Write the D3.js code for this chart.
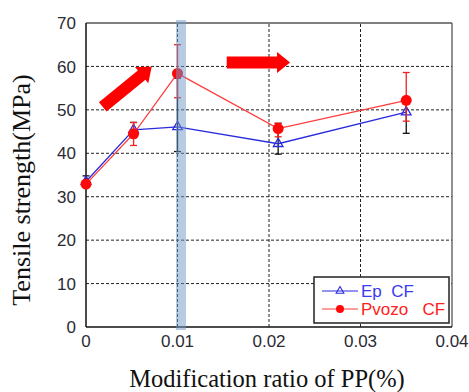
<!DOCTYPE html>
<html lang="en">
<head>
  <meta charset="UTF-8">
  <title>Tensile strength vs modification ratio</title>
  <script src="https://d3js.org/d3.v7.min.js"></script>
  <style>
    body { margin: 0; background: #fff; }
    svg { display: block; }
  </style>
</head>
<body>
  <div id="chart"></div>
  <script>
    // data
    const ratios = [0, 0.0052, 0.01, 0.021, 0.035];
    const epValues = [33.5, 45.4, 46.1, 42.2, 49.5];
    const epLow = [32.5, 43.6, 40.4, 39.8, 44.6];
    const epHigh = [34.8, 47.1, 57.3, 46.9, 52.0];
    const pvValues = [32.9, 44.5, 58.4, 45.7, 52.2];
    const pvLow = [32.9, 41.8, 52.8, 43.8, 47.4];
    const pvHigh = [32.9, 47.1, 65.0, 46.9, 58.6];
    const xTicks = [0, 0.01, 0.02, 0.03, 0.04];
    const yTicks = [0, 10, 20, 30, 40, 50, 60, 70];
    const seriesNames = ["Ep  CF", "Pvozo   CF"];
    // annotation arrows in data units: [x0, y0, x1, y1]
    const arrows = [
      [0.00183, 50.7, 0.00718, 59.9],
      [0.01538, 60.9, 0.0223, 60.9]
    ];
    const highlightAt = 0.01;

    const width = 469, height = 392;
    const margin = { top: 23, right: 17, bottom: 65, left: 86 };

    const svg = d3.select("#chart").append("svg").attr("width", width).attr("height", height);

    const x = d3.scaleLinear().domain([0, 0.04]).range([margin.left, width - margin.right]);
    const y = d3.scaleLinear().domain([0, 70]).range([height - margin.bottom, margin.top]);

    // gridlines
    svg.append("g").selectAll("line").data(xTicks.slice(1, -1)).enter().append("line")
      .attr("x1", d => x(d)).attr("x2", d => x(d))
      .attr("y1", y(0)).attr("y2", y(70))
      .attr("stroke", "#222").attr("stroke-width", 1).attr("stroke-dasharray", "3,2");
    svg.append("g").selectAll("line").data(yTicks.slice(1, -1)).enter().append("line")
      .attr("x1", x(0)).attr("x2", x(0.04))
      .attr("y1", d => y(d)).attr("y2", d => y(d))
      .attr("stroke", "#222").attr("stroke-width", 1).attr("stroke-dasharray", "3,2");

    // frame
    svg.append("line").attr("x1", x(0)).attr("x2", x(0.04)).attr("y1", y(70)).attr("y2", y(70))
      .attr("stroke", "#555").attr("stroke-width", 1.3);
    svg.append("line").attr("x1", x(0.04)).attr("x2", x(0.04)).attr("y1", y(0)).attr("y2", y(70))
      .attr("stroke", "#555").attr("stroke-width", 1.3);
    svg.append("line").attr("x1", x(0)).attr("x2", x(0)).attr("y1", y(0)).attr("y2", y(70))
      .attr("stroke", "#111").attr("stroke-width", 1.5);
    svg.append("line").attr("x1", x(0)).attr("x2", x(0.04)).attr("y1", y(0)).attr("y2", y(0))
      .attr("stroke", "#111").attr("stroke-width", 1.5);

    // tick labels
    svg.append("g").selectAll("text").data(yTicks).enter().append("text")
      .attr("x", x(0) - 10).attr("y", d => y(d)).attr("dy", "0.36em")
      .attr("text-anchor", "end").attr("font-family", "Liberation Sans, Arial, sans-serif")
      .attr("font-size", 17).attr("fill", "#2a2a33").text(d => d);
    svg.append("g").selectAll("text").data(xTicks).enter().append("text")
      .attr("x", d => x(d)).attr("y", y(0) + 20)
      .attr("text-anchor", "middle").attr("font-family", "Liberation Sans, Arial, sans-serif")
      .attr("font-size", 17).attr("fill", "#2a2a33").text(d => d);

    // axis titles
    svg.append("text").attr("transform", `translate(30,${(y(0) + y(70)) / 2 + 15}) rotate(-90)`)
      .attr("text-anchor", "middle").attr("font-family", "Liberation Serif, Times New Roman, serif")
      .attr("font-size", 26).attr("fill", "#111").text("Tensile strength(MPa)");
    svg.append("text").attr("x", 267).attr("y", 387)
      .attr("text-anchor", "middle").attr("font-family", "Liberation Serif, Times New Roman, serif")
      .attr("font-size", 24.5).attr("fill", "#111").text("Modification ratio of PP(%)");

    const epColor = "#2b2bdd", pvColor = "#ff3b3b";

    // error bars
    function errorBars(low, high, color) {
      const g = svg.append("g");
      ratios.forEach((r, i) => {
        if (high[i] - low[i] < 0.5) return;
        g.append("line").attr("x1", x(r)).attr("x2", x(r)).attr("y1", y(low[i])).attr("y2", y(high[i]))
          .attr("stroke", color).attr("stroke-width", 1.3);
        [low[i], high[i]].forEach(v => {
          g.append("line").attr("x1", x(r) - 3.5).attr("x2", x(r) + 3.5).attr("y1", y(v)).attr("y2", y(v))
            .attr("stroke", color).attr("stroke-width", 1.3);
        });
      });
    }
    errorBars(epLow, epHigh, "#111");

    const line = d3.line().x(d => x(d[0])).y(d => y(d[1]));
    svg.append("path").datum(ratios.map((r, i) => [r, epValues[i]]))
      .attr("d", line).attr("fill", "none").attr("stroke", epColor).attr("stroke-width", 1.3);
    const tri = d3.symbol().type(d3.symbolTriangle).size(40);
    svg.append("g").selectAll("path").data(ratios).enter().append("path")
      .attr("d", tri).attr("transform", (d, i) => `translate(${x(d)},${y(epValues[i])})`)
      .attr("fill", "none").attr("stroke", epColor).attr("stroke-width", 1.3);

    errorBars(pvLow, pvHigh, "#ee2222");
    svg.append("path").datum(ratios.map((r, i) => [r, pvValues[i]]))
      .attr("d", line).attr("fill", "none").attr("stroke", pvColor).attr("stroke-width", 1.2);
    svg.append("g").selectAll("circle").data(ratios).enter().append("circle")
      .attr("cx", d => x(d)).attr("cy", (d, i) => y(pvValues[i])).attr("r", 5.5)
      .attr("fill", "#ff0808");

    // highlight band
    svg.append("rect").attr("x", x(highlightAt) - 1.5).attr("width", 10)
      .attr("y", y(70) - 3).attr("height", y(0) - y(70) + 6)
      .attr("fill", "#7098c8").attr("opacity", 0.5);

    // arrows
    function arrowPath(a) {
      const x0 = x(a[0]), y0 = y(a[1]), x1 = x(a[2]), y1 = y(a[3]);
      const len = Math.hypot(x1 - x0, y1 - y0);
      const ux = (x1 - x0) / len, uy = (y1 - y0) / len;
      const nx = -uy, ny = ux;
      const sw = 6, hw = 10.5, hl = 13;
      const bx = x1 - ux * hl, by = y1 - uy * hl;
      const pts = [
        [x0 + nx * sw, y0 + ny * sw],
        [bx + nx * sw, by + ny * sw],
        [bx + nx * hw, by + ny * hw],
        [x1, y1],
        [bx - nx * hw, by - ny * hw],
        [bx - nx * sw, by - ny * sw],
        [x0 - nx * sw, y0 - ny * sw]
      ];
      return "M" + pts.map(p => p.join(",")).join("L") + "Z";
    }
    svg.append("g").selectAll("path").data(arrows).enter().append("path")
      .attr("d", arrowPath).attr("fill", "#ff0000");

    // legend
    const lg = svg.append("g").attr("transform", "translate(314,277)");
    lg.append("rect").attr("width", 135).attr("height", 46)
      .attr("fill", "#fff").attr("stroke", "#222").attr("stroke-width", 1.5);
    const legendColors = [epColor, pvColor];
    const legendText = ["#3a3aee", "#ff2020"];
    seriesNames.forEach((name, i) => {
      const ly = 14 + i * 18;
      lg.append("line").attr("x1", 8).attr("x2", 44).attr("y1", ly).attr("y2", ly)
        .attr("stroke", legendColors[i]).attr("stroke-width", 1.2);
      if (i === 0) {
        lg.append("path").attr("d", d3.symbol().type(d3.symbolTriangle).size(26))
          .attr("transform", `translate(26,${ly})`).attr("fill", "none")
          .attr("stroke", epColor).attr("stroke-width", 1.1);
      } else {
        lg.append("circle").attr("cx", 26).attr("cy", ly).attr("r", 4).attr("fill", "#ff0808");
      }
      lg.append("text").attr("x", 47).attr("y", ly + 6)
        .attr("font-family", "Liberation Sans, Arial, sans-serif").attr("font-size", 17)
        .attr("fill", legendText[i]).style("white-space", "pre").text(name);
    });
  </script>
</body>
</html>
